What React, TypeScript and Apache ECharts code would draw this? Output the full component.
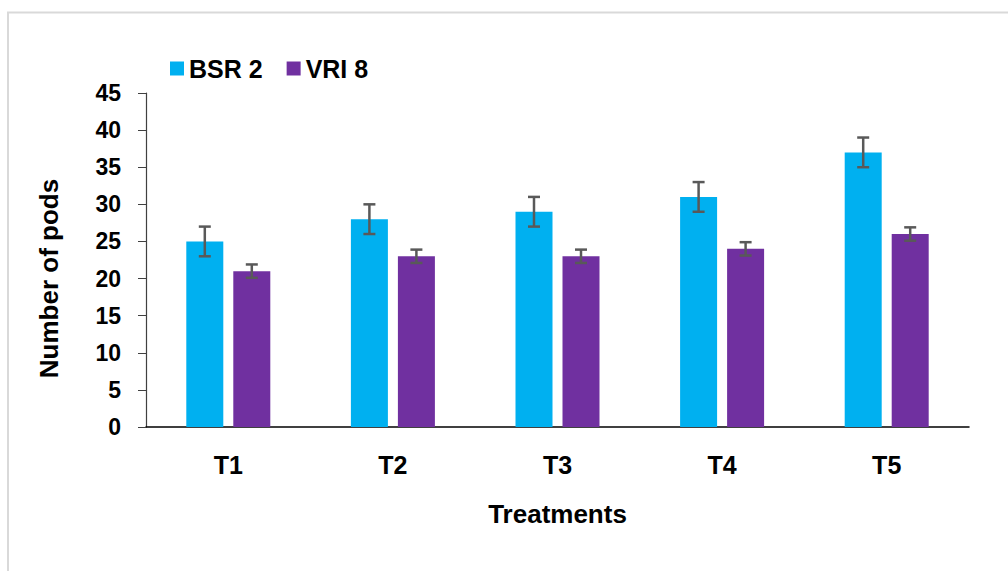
import React, { useEffect, useRef } from "react";
import * as echarts from "echarts";

const categories = ["T1", "T2", "T3", "T4", "T5"];
const bsr2 = [25, 28, 29, 31, 37];
const bsr2Err = [2, 2, 2, 2, 2];
const vri8 = [21, 23, 23, 24, 26];
const vri8Err = [0.9, 0.9, 0.9, 0.9, 0.9];
const yTicks = { min: 0, max: 45, interval: 5 };

const FONT = "'Liberation Sans', Arial, sans-serif";
const BAR_W = 37;
const BAR_GAP_PX = 10;

function errorSeries(name: string, values: number[], errs: number[], side: number) {
  return {
    type: "custom",
    name: name + " err",
    silent: true,
    z: 10,
    data: values.map((v, i) => [i, v - errs[i], v + errs[i]]),
    encode: { x: 0, y: [1, 2] },
    renderItem: (params: any, api: any) => {
      const idx = api.value(0);
      const lo = api.coord([idx, api.value(1)]);
      const hi = api.coord([idx, api.value(2)]);
      const x = lo[0] + side * (BAR_W / 2 + BAR_GAP_PX / 2);
      const cap = 6;
      const style = { stroke: "#595959", lineWidth: 2.5, fill: "none" };
      return {
        type: "group",
        children: [
          { type: "line", shape: { x1: x, y1: lo[1], x2: x, y2: hi[1] }, style },
          { type: "line", shape: { x1: x - cap, y1: lo[1], x2: x + cap, y2: lo[1] }, style },
          { type: "line", shape: { x1: x - cap, y1: hi[1], x2: x + cap, y2: hi[1] }, style },
        ],
      };
    },
  };
}

export default function App() {
  const ref = useRef<HTMLDivElement>(null);
  useEffect(() => {
    if (!ref.current) return;
    const chart = echarts.init(ref.current, undefined, { renderer: "svg" });
    chart.setOption({
      animation: false,
      backgroundColor: "#ffffff",
      graphic: [
        {
          type: "rect",
          shape: { x: 8, y: 12.5, width: 1010, height: 600 },
          style: { fill: "none", stroke: "#d9d9d9", lineWidth: 2 },
          silent: true,
        },
      ],
      legend: {
        left: 165,
        top: 51,
        itemWidth: 14,
        itemHeight: 14,
        itemGap: 24,
        icon: "rect",
        data: ["BSR 2", "VRI 8"],
        textStyle: { fontFamily: FONT, fontWeight: "bold", fontSize: 25, color: "#000" },
      },
      grid: { left: 146, right: 39, top: 93, bottom: 144 },
      xAxis: {
        type: "category",
        data: categories,
        name: "Treatments",
        nameLocation: "middle",
        nameGap: 74,
        nameTextStyle: { fontFamily: FONT, fontWeight: "bold", fontSize: 26, color: "#000" },
        axisLine: { lineStyle: { color: "#000", width: 1.5 } },
        axisTick: { show: false },
        axisLabel: { fontFamily: FONT, fontWeight: "bold", fontSize: 25, color: "#000", margin: 25 },
      },
      yAxis: {
        type: "value",
        min: yTicks.min,
        max: yTicks.max,
        interval: yTicks.interval,
        name: "Number of pods",
        nameLocation: "middle",
        nameGap: 84,
        nameTextStyle: {
          fontFamily: FONT,
          fontWeight: "bold",
          fontSize: 26,
          color: "#000",
          padding: [0, 37, 0, 0],
        },
        axisLine: { show: true, lineStyle: { color: "#404040", width: 1.2 } },
        axisTick: { show: true, length: 8, lineStyle: { color: "#404040" } },
        splitLine: { show: false },
        axisLabel: { fontFamily: FONT, fontWeight: "bold", fontSize: 23, color: "#000", margin: 25 },
      },
      series: [
        {
          type: "bar",
          name: "BSR 2",
          data: bsr2,
          barWidth: BAR_W,
          barGap: (BAR_GAP_PX / BAR_W) * 100 + "%",
          itemStyle: { color: "#00B0F0" },
        },
        {
          type: "bar",
          name: "VRI 8",
          data: vri8,
          barWidth: BAR_W,
          barGap: (BAR_GAP_PX / BAR_W) * 100 + "%",
          itemStyle: { color: "#7030A0" },
        },
        errorSeries("BSR 2", bsr2, bsr2Err, -1),
        errorSeries("VRI 8", vri8, vri8Err, 1),
      ],
    });
    return () => chart.dispose();
  }, []);
  return (
    <div
      ref={ref}
      style={{ position: "fixed", left: 0, top: 0, width: 1008, height: 571 }}
    />
  );
}
